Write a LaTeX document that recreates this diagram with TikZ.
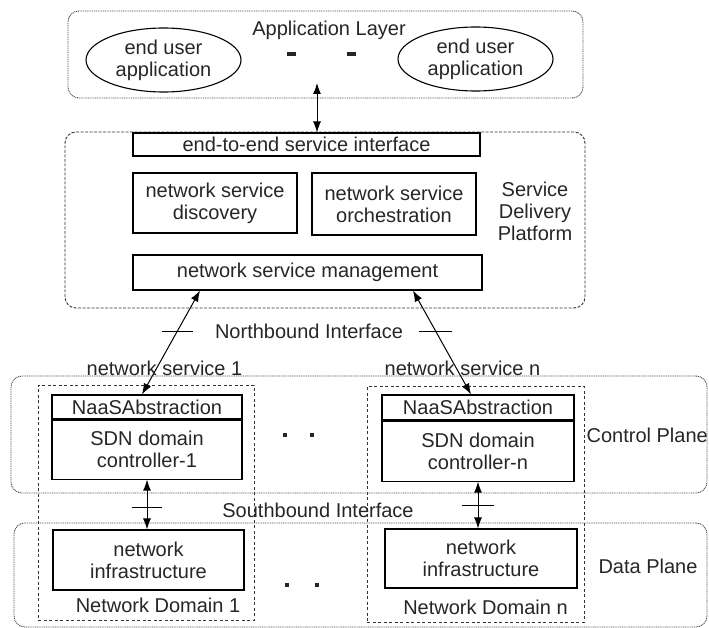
\documentclass[tikz,border=0pt]{standalone}
\usepackage{fontspec}
\setmainfont{Liberation Sans}
\usetikzlibrary{arrows.meta,shapes.geometric}

\begin{document}
\begin{tikzpicture}[x=1pt,y=-1pt,
	font=\fontsize{20}{22}\selectfont,text=black!85,
	box/.style={draw,line width=1.1pt,inner sep=0pt,align=center},
	app/.style={draw,ellipse,line width=1.1pt,inner sep=0pt,align=center,minimum width=155,minimum height=64},
	layer/.style={draw=black!70,line width=0.9pt,rounded corners=11pt,dash pattern=on 1pt off 0.8pt},
	frame/.style={draw=black!80,line width=0.9pt,rounded corners=11pt,dash pattern=on 3pt off 1.5pt},
	domainbox/.style={draw=black!80,line width=0.9pt,dash pattern=on 3pt off 2.5pt},
	link/.style={line width=1pt,{Latex[length=11pt,width=8pt]}-{Latex[length=11pt,width=8pt]}},
	tickmark/.style={line width=0.9pt},
	gap/.style={inner sep=0pt,fill=black!85}]
	\useasboundingbox (0,0) rectangle (709,628);
	\node[layer,minimum width=515,minimum height=87] (applayer) at (325.5,54.5) {};
	\node (applabel) at (329,30) {Application Layer};
	\node[app] (userL) at (163.5,60) {end user\\application};
	\node[app] (userR) at (475.5,59) {end user\\application};
	\node[gap,minimum width=9,minimum height=4] (dashL) at (291,54) {};
	\node[gap,minimum width=9,minimum height=4] (dashR) at (351,54) {};
	\node[frame,minimum width=520,minimum height=176] (sdp) at (325,220) {};
	\node[box,minimum width=347,minimum height=23] (e2e) at (306.5,144.5) {end-to-end service interface};
	\node[box,minimum width=164,minimum height=60] (discovery) at (215,203) {network service\\discovery};
	\node[box,minimum width=164,minimum height=62] (orchestration) at (394,204) {network service\\orchestration};
	\node[align=center] (sdplabel) at (535,211) {Service\\Delivery\\Platform};
	\node[box,minimum width=349,minimum height=35] (mgmt) at (307.5,272.5) {network service management};
	\coordinate (apptip) at (317,83);
	\draw[link] (apptip) -- (apptip |- e2e.north);
	\node[layer,minimum width=696,minimum height=117] (control) at (359,434.5) {};
	\node[layer,minimum width=693,minimum height=104] (data) at (360.5,575) {};
	\node[domainbox,minimum width=216,minimum height=235] (domain1) at (146,502.5) {};
	\node[domainbox,minimum width=217,minimum height=236] (domainn) at (475.5,504) {};
	\node[box,minimum width=190,minimum height=24] (naas1) at (147,407) {NaaSAbstraction};
	\node[box,minimum width=190,minimum height=59,anchor=north] (ctrl1) at (naas1.south) {SDN domain\\controller-1};
	\node[box,minimum width=192,minimum height=25] (naasn) at (478,407.5) {NaaSAbstraction};
	\node[box,minimum width=192,minimum height=60,anchor=north] (ctrln) at (naasn.south) {SDN domain\\controller-n};
	\node[box,minimum width=191,minimum height=60] (infra1) at (148.5,560) {network\\infrastructure};
	\node[box,minimum width=192,minimum height=59] (infran) at (481,558.5) {network\\infrastructure};
	\draw[link] (200,0 |- mgmt.south) -- (142,0 |- naas1.north) node[pos=0.39,coordinate] (nbL) {};
	\draw[link] (413,0 |- mgmt.south) -- (471,0 |- naasn.north) node[pos=0.39,coordinate] (nbR) {};
	\draw[tickmark] (nbL) +(-15.5,0) -- +(15.5,0);
	\draw[tickmark] (nbR) +(-16.5,0) -- +(16.5,0);
	\node (north) at (309,331) {Northbound Interface};
	\node (svc1) at (164.5,368) {network service 1};
	\node (svcn) at (462.5,368) {network service n};
	\draw[link] (ctrl1.south) -- (ctrl1.south |- infra1.north) node[pos=0.56,coordinate] (sbL) {};
	\draw[link] (ctrln.south) -- (ctrln.south |- infran.north) node[pos=0.5,coordinate] (sbR) {};
	\draw[tickmark] (sbL) +(-15,0) -- +(15,0);
	\draw[tickmark] (sbR) +(-16,0) -- +(16,0);
	\node (south) at (318,510) {Southbound Interface};
	\node[anchor=east,inner xsep=1pt] (ctrllabel) at (709,435) {Control Plane};
	\node (datalabel) at (648,566) {Data Plane};
	\node (dom1label) at (158,605) {Network Domain 1};
	\node (domnlabel) at (485.5,607) {Network Domain n};
	\node[gap,minimum size=4] (dotA1) at (285,435) {};
	\node[gap,minimum size=4] (dotA2) at (312,435) {};
	\node[gap,minimum size=4] (dotB1) at (287,585) {};
	\node[gap,minimum size=4] (dotB2) at (317,585) {};
\end{tikzpicture}
\end{document}
